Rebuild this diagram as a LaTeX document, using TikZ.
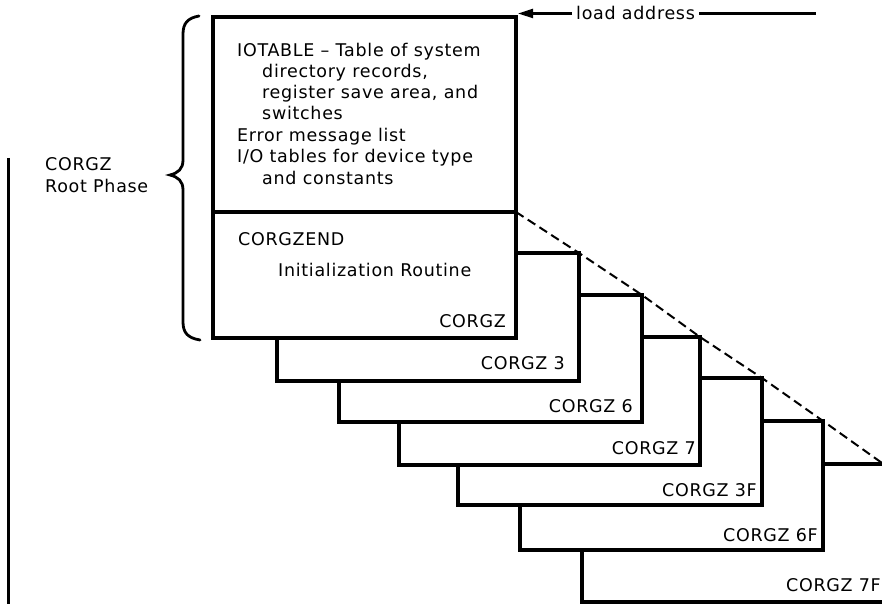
\documentclass[tikz,border=0pt]{standalone}
\usepackage{fontspec}
\setmainfont{DejaVu Sans}[LetterSpace=4]
\usetikzlibrary{arrows.meta,calc}
\begin{document}
\begin{tikzpicture}[x=1pt,y=-1pt,
  txt/.style={inner sep=0pt,font=\fontsize{17.5pt}{21pt}\selectfont},
  boxnode/.style={draw,fill=white,line width=3.4pt,rectangle,inner sep=0pt,outer sep=0pt,anchor=north west},
  boxline/.style={line width=3.4pt},
  dashline/.style={line width=2pt,dash pattern=on 9pt off 5pt},
  thinline/.style={line width=2.2pt},
  bracestyle/.style={line width=2.8pt,line cap=round}]
\useasboundingbox (0,0) rectangle (882,604);
% dashed guide line through the corners
\coordinate (dstart) at (516,212);
\coordinate (dend) at (882,463);
\draw[dashline] (dstart) -- (579,253) -- (642,295) -- (700,337) -- (762,378) -- (823,421) -- (dend);
% stacked phases (back to front)
\node[boxnode,minimum width=302pt,minimum height=138pt] (b7F) at (582,464) {};
\node[boxnode,minimum width=303pt,minimum height=129pt] (b6F) at (520,421) {};
\node[boxnode,minimum width=304pt,minimum height=127pt] (b3F) at (458,378) {};
\node[boxnode,minimum width=301pt,minimum height=128pt] (b7) at (399,337) {};
\node[boxnode,minimum width=303pt,minimum height=127pt] (b6) at (339,295) {};
\node[boxnode,minimum width=302pt,minimum height=128pt] (b3) at (277,253) {};
\node[boxnode,minimum width=303pt,minimum height=321pt] (root) at (213,17) {};
\draw[boxline] (root.west |- 0,212) -- (root.east |- 0,212);
% texts in root box
\node[txt,anchor=base west] (t1) at (237,57) {IOTABLE – Table of system};
\node[txt,anchor=base west] (t2) at (262,78) {directory records,};
\node[txt,anchor=base west] (t3) at (262,99) {register save area, and};
\node[txt,anchor=base west] (t4) at (262,120) {switches};
\node[txt,anchor=base west] (t5) at (237,142) {Error message list};
\node[txt,anchor=base west] (t6) at (237,163) {I/O tables for device type};
\node[txt,anchor=base west] (t7) at (262,184) {and constants};
\node[txt,anchor=base west] (tend) at (238,245) {CORGZEND};
\node[txt,anchor=base west] (tinit) at (278,276) {Initialization Routine};
% box labels
\node[txt,anchor=base east] (l0) at (506,327) {CORGZ};
\node[txt,anchor=base east] (l3) at (565,369) {CORGZ 3};
\node[txt,anchor=base east] (l6) at (633,412) {CORGZ 6};
\node[txt,anchor=base east] (l7) at (696,454) {CORGZ 7};
\node[txt,anchor=base east] (l3F) at (757,496) {CORGZ 3F};
\node[txt,anchor=base east] (l6F) at (818,541) {CORGZ 6F};
\node[txt,anchor=base east] (l7F) at (881,591) {CORGZ 7F};
% load address
\node[txt,anchor=base west,inner xsep=4pt] (la) at (572,20) {load address};
\draw[thinline,-{Triangle[length=15pt,width=9pt]}] (la.west) -- ([xshift=2pt]root.north east |- la.west);
\coordinate (laend) at (816,0);
\draw[thinline] (la.east) -- (la.east -| laend);
% brace
\draw[bracestyle] (199,16) .. controls (188,18) and (183,23) .. (183,34) -- (183,160)
  .. controls (183,169) and (178,173) .. (170,175)
  .. controls (178,177) and (183,181) .. (183,190) -- (183,322)
  .. controls (183,333) and (188,338) .. (200,340);
% root phase label
\node[txt,anchor=base west] (rp1) at (45,170) {CORGZ};
\node[txt,anchor=base west] (rp2) at (45,192) {Root Phase};
% left vertical line
\coordinate (vtop) at (8,158);
\coordinate (vbot) at (8,606);
\draw[line width=3pt] (vtop) -- (vbot);
\end{tikzpicture}
\end{document}
